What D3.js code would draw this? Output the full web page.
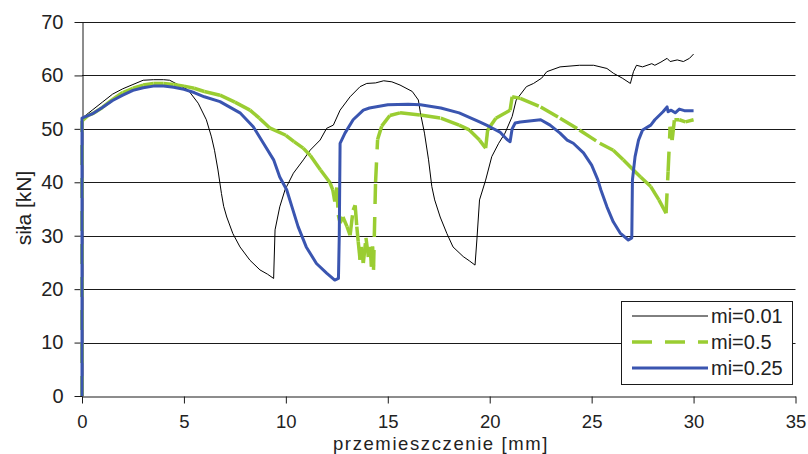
<!DOCTYPE html>
<html>
<head>
<meta charset="utf-8">
<script src="https://cdn.jsdelivr.net/npm/d3@7"></script>
<style>
  body { margin: 0; background: #fff; }
  svg { display: block; font-family: "Liberation Sans", Arial, sans-serif; }
</style>
</head>
<body>
<svg id="chart" width="808" height="454"></svg>
<script>
// values: [przemieszczenie mm, siła kN]
const X_TICKS = [0, 5, 10, 15, 20, 25, 30, 35]
const Y_TICKS = [0, 10, 20, 30, 40, 50, 60, 70]
const SERIES_NAMES = ['mi=0.01', 'mi=0.5', 'mi=0.25']

const mi001 = [
  [0, 0], [0, 52], [0.5, 53.5], [1, 55], [1.5, 56.5], [2, 57.5], [2.5, 58.3], [3, 59.1],
  [3.5, 59.2], [4, 59.2], [4.3, 59.1], [4.7, 58.3], [5.2, 57.3], [5.7, 54.8], [6.1, 51.7],
  [6.35, 48.5], [6.5, 46], [6.67, 42.3], [6.84, 37.9], [6.95, 35.5], [7.1, 33.5], [7.4, 30.4],
  [7.75, 27.9], [8.24, 25.4], [8.73, 23.6], [9.1, 22.8], [9.4, 22], [9.47, 31.1], [9.7, 35.4],
  [9.96, 38.6], [10.37, 41.7], [10.86, 44.2], [11.19, 46], [11.68, 47.9], [12.0, 50.1],
  [12.33, 50.7], [12.66, 53.5], [13.15, 56], [13.64, 57.9], [13.97, 58.5], [14.4, 58.6],
  [14.8, 59], [15.2, 58.8], [15.6, 58.2], [16.2, 57], [16.5, 55.4], [16.6, 53], [16.8, 49.2],
  [17.0, 44.2], [17.16, 39.2], [17.3, 36.7], [17.57, 33.5], [17.9, 30.4], [18.2, 27.9],
  [18.7, 26.1], [19.0, 25.3], [19.28, 24.5], [19.37, 29.2], [19.5, 36.7], [19.8, 40.4],
  [20.1, 44.8], [20.44, 47.3], [20.75, 49.2], [21.1, 52.3], [21.3, 55.4], [21.8, 57.9],
  [22.15, 58.5], [22.55, 59.5], [22.8, 60.7], [23.45, 61.6], [24.4, 61.9], [25.1, 61.9],
  [25.75, 61.3], [26.07, 60.4], [26.5, 59.5], [26.9, 58.5], [27.05, 60.7], [27.2, 61.9],
  [27.5, 61.6], [27.95, 62.2], [28.1, 61.9], [28.4, 62.5], [28.7, 63.2], [28.85, 62.6],
  [29.2, 62.9], [29.5, 62.6], [29.8, 63.2], [30, 64]
]

const mi05 = [
  [0, 0], [0, 51.5], [0.3, 52.5], [0.6, 53], [1, 54], [1.5, 55.5], [2, 56.8], [2.5, 57.6],
  [3, 58.2], [3.5, 58.5], [4, 58.5], [4.5, 58.3], [5, 58], [5.5, 57.6], [6, 57], [6.77, 56.3],
  [7.5, 55], [8.24, 53.5], [8.7, 52], [9.2, 50.2], [10, 48.8], [10.4, 47.6], [10.85, 46.4],
  [11.2, 45], [11.7, 42.3], [12.17, 39.9], [12.3, 38.6], [12.4, 36.4], [12.5, 39], [12.57, 33.9],
  [12.66, 32.4], [12.8, 33.5], [13.0, 31.7], [13.15, 30.1], [13.3, 34.8], [13.4, 35.7],
  [13.48, 31.7], [13.55, 28.9], [13.64, 25.5], [13.7, 27.9], [13.8, 24.9], [13.93, 29.6],
  [14.05, 26], [14.13, 27.9], [14.2, 24.2], [14.25, 28], [14.3, 23.6], [14.4, 40], [14.5, 48],
  [14.7, 50.5], [15.1, 52.5], [15.6, 53], [16.6, 52.6], [17.6, 52], [18.5, 50.7], [19, 49.8],
  [19.5, 47.9], [19.8, 46.4], [19.9, 49.8], [20.3, 52], [21, 53.5], [21.1, 56], [21.5, 55.7],
  [22.5, 54.1], [23.45, 52], [24.4, 49.8], [25.4, 47.3], [26.06, 46], [26.55, 44.2],
  [27.05, 42.3], [27.4, 41], [27.9, 39.2], [28.3, 36.7], [28.65, 34.2], [28.75, 42],
  [28.85, 50.4], [28.95, 47.9], [29.06, 51.7], [29.3, 51.7], [29.6, 51.3], [30, 51.7]
]

const mi025 = [
  [0, 0], [0, 52], [0.5, 52.8], [1, 54], [1.5, 55.3], [2, 56.3], [2.5, 57.2], [3, 57.7],
  [3.5, 58], [4, 58], [4.5, 57.8], [5, 57.4], [5.5, 56.8], [6, 56], [6.77, 55.1], [7.75, 53],
  [8.4, 50.4], [8.9, 47.3], [9.4, 44.2], [9.7, 41], [10.04, 38.6], [10.3, 35.4], [10.6, 31.7],
  [11.0, 27.9], [11.5, 24.8], [12.0, 23], [12.4, 21.7], [12.58, 22], [12.62, 30], [12.66, 47.3],
  [12.9, 49.2], [13.3, 51.7], [13.8, 53.5], [14.1, 53.9], [15, 54.5], [16, 54.6], [16.6, 54.5],
  [17.6, 53.9], [18.5, 53], [19.5, 51.3], [20, 50.4], [20.5, 49.4], [20.85, 48], [21, 47.6],
  [21.1, 50], [21.25, 51.1], [21.5, 51.3], [22.5, 51.7], [22.96, 50.7], [23.45, 49.2],
  [23.8, 47.9], [24.1, 47.3], [24.6, 45.5], [25, 43.2], [25.3, 40.5], [25.45, 38.6],
  [25.75, 35.4], [26.06, 32.6], [26.4, 30.5], [26.8, 29.2], [26.97, 29.6], [27.0, 40.4],
  [27.13, 44.8], [27.3, 47.9], [27.5, 49.8], [27.9, 50.7], [28.1, 51.7], [28.5, 53.2],
  [28.7, 54.1], [28.75, 53.2], [28.9, 53.5], [29.1, 53], [29.3, 53.7], [29.55, 53.4], [30, 53.4]
]

const LEFT = 82
const RIGHT = 795.5
const TOP = 22
const BOTTOM = 396
const TEXT = '#222'

var svg = d3.select('#chart')

var x = d3.scaleLinear().domain([0, 35]).range([LEFT, RIGHT])
var y = d3.scaleLinear().domain([0, 70]).range([BOTTOM, TOP])

// horizontal grid
svg.append('g')
  .selectAll('line')
  .data(Y_TICKS.slice(1))
  .enter().append('line')
  .attr('x1', LEFT)
  .attr('x2', RIGHT)
  .attr('y1', function (d) { return Math.round(y(d)) + 0.5 })
  .attr('y2', function (d) { return Math.round(y(d)) + 0.5 })
  .attr('stroke', '#1a1a1a')
  .attr('stroke-width', 1)

var yAxis = svg.append('g')
  .attr('transform', 'translate(' + (LEFT + 0.5) + ',0)')
  .call(d3.axisLeft(y).tickValues(Y_TICKS).tickSize(8).tickSizeOuter(0).tickPadding(11))
yAxis.selectAll('text').attr('font-size', 20).attr('fill', TEXT)
  .attr('font-family', '"Liberation Sans", Arial, sans-serif')
yAxis.selectAll('line, path').attr('stroke', '#1a1a1a')

var xAxis = svg.append('g')
  .attr('transform', 'translate(0,' + (BOTTOM + 0.5) + ')')
  .call(d3.axisBottom(x).tickValues(X_TICKS).tickSize(7).tickSizeOuter(0).tickPadding(11))
xAxis.selectAll('text').attr('font-size', 18.5).attr('fill', TEXT)
  .attr('font-family', '"Liberation Sans", Arial, sans-serif')
xAxis.selectAll('line, path').attr('stroke', '#1a1a1a')

var line = d3.line()
  .x(function (p) { return x(p[0]) })
  .y(function (p) { return y(p[1]) })

svg.append('path')
  .datum(mi001)
  .attr('d', line)
  .attr('fill', 'none')
  .attr('stroke', '#000')
  .attr('stroke-width', 1)

// dash pattern restarts on every segment, like the original plot
svg.append('g')
  .selectAll('path')
  .data(d3.pairs(mi05))
  .enter().append('path')
  .attr('d', function (seg) { return line(seg) })
  .attr('fill', 'none')
  .attr('stroke', '#9acd32')
  .attr('stroke-width', 3.5)
  .attr('stroke-dasharray', '20,13')

svg.append('path')
  .datum(mi025)
  .attr('d', line)
  .attr('fill', 'none')
  .attr('stroke', '#3a55b0')
  .attr('stroke-width', 3)
  .attr('stroke-linejoin', 'round')

// axis titles
svg.append('text')
  .text('przemieszczenie [mm]')
  .attr('x', 441)
  .attr('y', 450)
  .attr('text-anchor', 'middle')
  .attr('font-size', 18.5)
  .attr('letter-spacing', 1.6)
  .attr('fill', TEXT)

svg.append('text')
  .text('siła [kN]')
  .attr('transform', 'translate(31,208) rotate(-90)')
  .attr('text-anchor', 'middle')
  .attr('font-size', 21)
  .attr('fill', TEXT)

// legend
var legend = svg.append('g')
legend.append('rect')
  .attr('x', 621.5)
  .attr('y', 301.5)
  .attr('width', 171)
  .attr('height', 83)
  .attr('fill', '#fff')
  .attr('stroke', '#1a1a1a')

var legendStyles = [
  { color: '#000', width: 1, dash: null },
  { color: '#9acd32', width: 3.5, dash: '20,13' },
  { color: '#3a55b0', width: 3, dash: null }
]

var item = legend.selectAll('g.item')
  .data(SERIES_NAMES)
  .enter().append('g')
  .attr('class', 'item')
  .attr('transform', function (d, i) { return 'translate(0,' + (316 + i * 26) + ')' })

item.append('line')
  .attr('x1', 632)
  .attr('x2', 708)
  .attr('stroke', function (d, i) { return legendStyles[i].color })
  .attr('stroke-width', function (d, i) { return legendStyles[i].width })
  .attr('stroke-dasharray', function (d, i) { return legendStyles[i].dash })

item.append('text')
  .text(function (d) { return d })
  .attr('x', 711)
  .attr('dy', '0.35em')
  .attr('font-size', 20)
  .attr('fill', TEXT)
</script>
</body>
</html>
